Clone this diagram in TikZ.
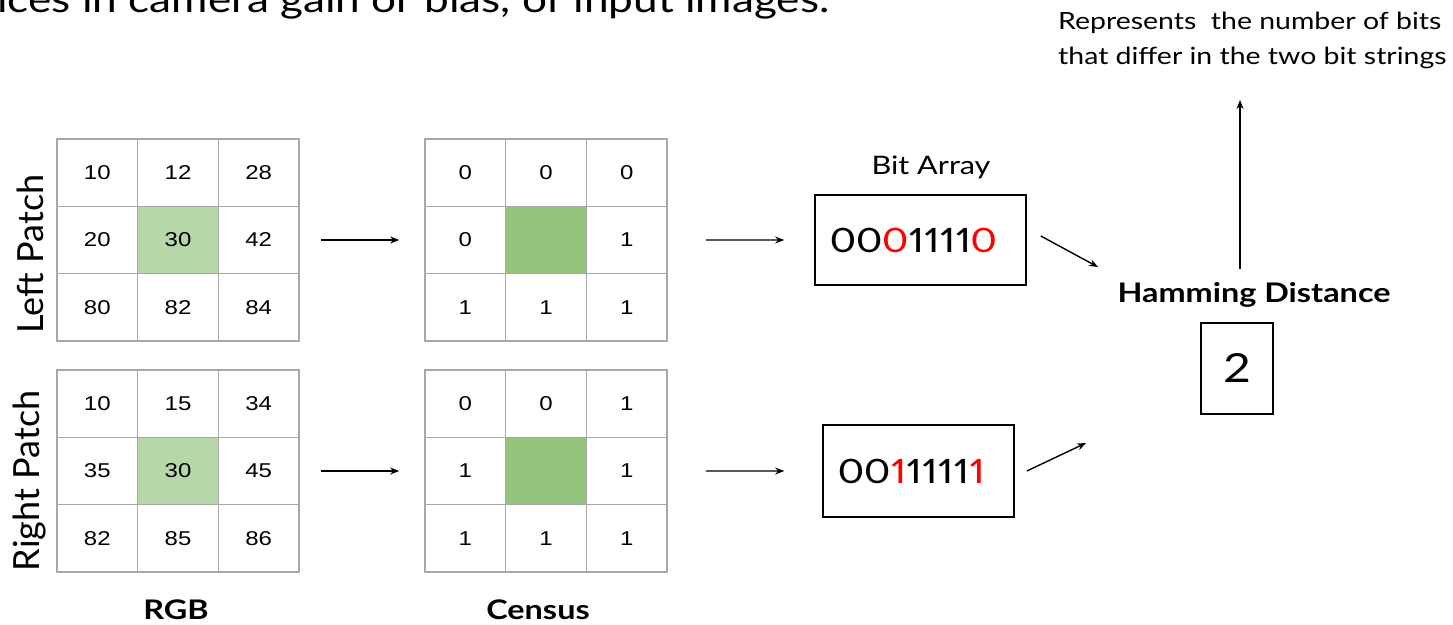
\documentclass[tikz,border=0pt]{standalone}
\usepackage{fontspec}
\setmainfont{Lato}[FakeStretch=1.2]
\newfontfamily\sidefont{Lato}
\newfontfamily\cellfont{Liberation Sans}[FakeStretch=1.2]
\newfontfamily\bitfont{Carlito}[Numbers=Proportional,FakeStretch=1.2]
\usetikzlibrary{arrows.meta}
\definecolor{gridgray}{HTML}{A8A8A8}
\definecolor{lightgreen}{HTML}{B6D7A8}
\definecolor{midgreen}{HTML}{93C47D}
\definecolor{bitred}{HTML}{FF0000}
\newcommand\fsz[1]{\fontsize{#1}{#1}\selectfont}

% a 3x3 patch of cells: name, left edge, top edge, centre fill, nine entries
\newcommand\cellgrid[5]{%
  \tikzset{cellfill4/.style={fill=#4}}%
  \foreach \t [count=\k from 0] in {#5} {
    \pgfmathtruncatemacro\r{div(\k,3)}
    \pgfmathtruncatemacro\c{mod(\k,3)}
    \node[cell, cellfill\k/.try] (#1-\r-\c)
      at ({#2+(\c+0.5)*80.67},{#3+(\r+0.5)*67.33}) {\t};
  }%
}

\begin{document}
\begin{tikzpicture}[x=1pt,y=-1pt,
  cell/.style={draw=gridgray, line width=1.6pt, minimum width=80.67pt,
    minimum height=67.33pt, inner sep=0pt, font=\cellfont\fsz{20}},
  box/.style={draw=black, line width=1.6pt, inner sep=0pt},
  bitbox/.style={box, align=left, inner xsep=15pt, font=\bitfont\fsz{37.5}},
  arr/.style={-{Stealth[length=9pt,width=7pt]}, line width=1.4pt},
  side/.style={rotate=90, font=\sidefont\fsz{36}},
  caption/.style={font=\bfseries\fsz{27}}]
\clip (0,0) rectangle (1453,624);
\fill[white] (0,0) rectangle (1453,624);

% heading line running off the top edge
\node[anchor=base west, inner sep=0pt, font=\fsz{36.8}] (head) at (-3,12)
  {ices in camera gain or bias, of input images.};

% input patches and their census transforms
\cellgrid{rgbL}{57}{139}{lightgreen}{10,12,28,20,30,42,80,82,84}
\cellgrid{rgbR}{57}{370}{lightgreen}{10,15,34,35,30,45,82,85,86}
\cellgrid{cenL}{425}{139}{midgreen}{0,0,0,0,{},1,1,1,1}
\cellgrid{cenR}{425}{370}{midgreen}{0,0,1,1,{},1,1,1,1}

\node[side] (lpatch) at (30,254) {Left Patch};
\node[side] (rpatch) at (30,481) {Right Patch};
\node[caption] (rgb) at (176,610) {RGB};
\node[caption] (census) at (538,610) {Census};

% bit strings
\node[font=\fsz{25.5}] (bitlabel) at (931,167) {Bit Array};
\node[bitbox, text width=181pt, minimum height=90pt] (bitL)
  at (920.5,240) {00\textcolor{bitred}{0}1111\textcolor{bitred}{0}};
\node[bitbox, text width=161pt, minimum height=92pt] (bitR)
  at (918.5,471) {00\textcolor{bitred}{1}1111\textcolor{bitred}{1}};

% hamming distance
\node[font=\bfseries\fsz{27}] (hd) at (1254,295) {Hamming Distance};
\node[box, minimum width=72pt, minimum height=91pt, font=\fsz{40}] (hv)
  at (1237,368.5) {2};
\node[anchor=north west, align=left, inner sep=0pt, font=\fontsize{23.7}{35}\selectfont]
  (note) at (1058,12) {Represents\ \ the number of bits\\that differ in the two bit strings};

% connectors
\coordinate (inL) at (1098,267);
\coordinate (inR) at (1086,443);
\coordinate (up) at (1240,100);
\draw[arr] ([xshift=21pt]rgbL-1-2.east) -- ([xshift=-25pt]cenL-1-0.west);
\draw[arr] ([xshift=21pt]rgbR-1-2.east) -- ([xshift=-25pt]cenR-1-0.west);
\draw[arr] ([xshift=38pt]cenL-1-2.east) -- ([xshift=-30pt]bitL.west);
\draw[arr] ([xshift=38pt]cenR-1-2.east) -- ([xshift=-38pt]bitR.west);
\draw[arr] ([shift={(14,-4)}]bitL.east) -- (inL);
\draw[arr] ([xshift=12pt]bitR.east) -- (inR);
\draw[arr] (hd.north -| up) ++(0,-10) -- (up);
\end{tikzpicture}
\end{document}
